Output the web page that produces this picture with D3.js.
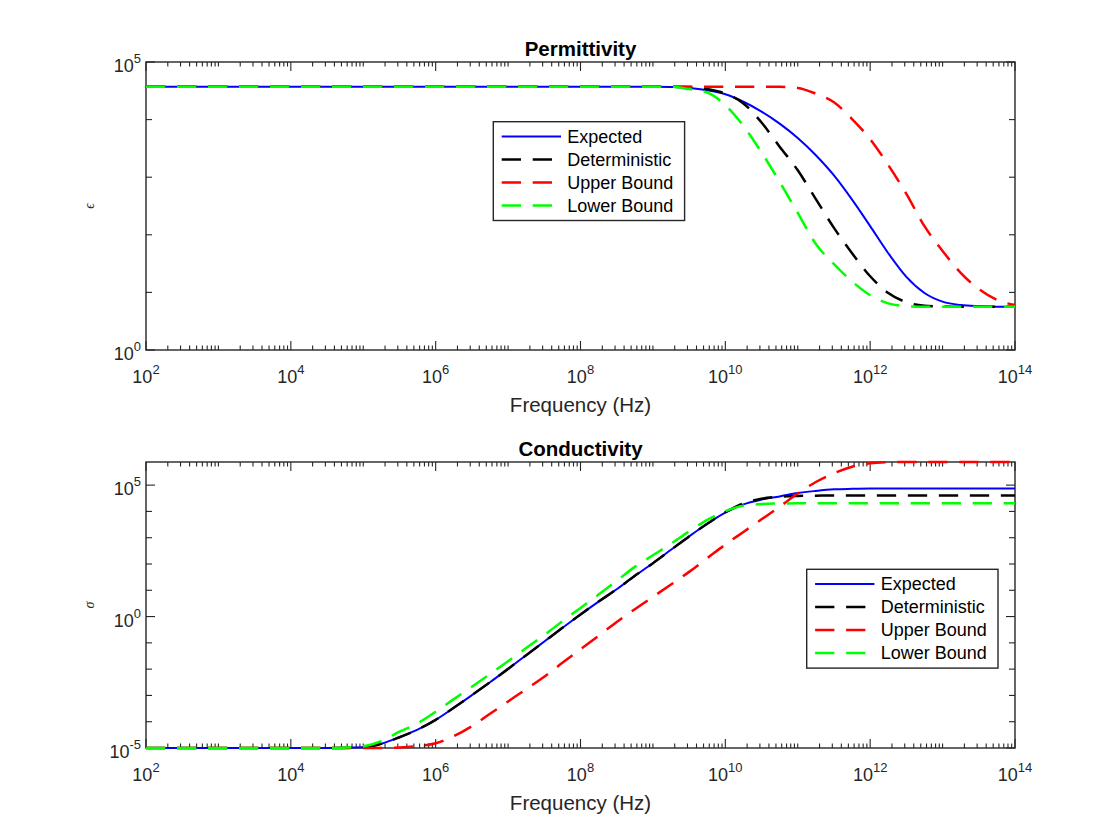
<!DOCTYPE html>
<html>
<head>
<meta charset="utf-8">
<script src="https://cdn.jsdelivr.net/npm/d3@7"></script>
<style>
body { margin: 0; background: #fff; }
svg { display: block; font-family: "Liberation Sans", Arial, sans-serif; }
</style>
</head>
<body>
<svg width="1120" height="840"></svg>
<script>
// frequency points, as log10(Hz)
var freqLog = [2, 3, 4, 4.5, 5, 5.25, 5.5, 5.75, 6, 6.25, 6.5, 6.75, 7, 7.25, 7.5, 7.75, 8, 8.25, 8.5, 8.75,
    9, 9.25, 9.5, 9.75, 10, 10.25, 10.5, 10.75, 11, 11.25, 11.5, 11.75, 12, 12.25, 12.5, 12.75, 13, 13.25, 13.5, 13.75, 14];

// permittivity, log10 values
var epsExpected = [4.57, 4.57, 4.57, 4.57, 4.57, 4.57, 4.57, 4.57, 4.57, 4.57, 4.57, 4.57, 4.57, 4.57, 4.57, 4.57, 4.57, 4.57, 4.57, 4.57,
    4.57, 4.565, 4.55, 4.51, 4.44, 4.31, 4.14, 3.93, 3.68, 3.38, 3.03, 2.61, 2.15, 1.68, 1.27, 0.99, 0.84, 0.78, 0.76, 0.752, 0.75];
var epsDeterministic = [4.57, 4.57, 4.57, 4.57, 4.57, 4.57, 4.57, 4.57, 4.57, 4.57, 4.57, 4.57, 4.57, 4.57, 4.57, 4.57, 4.57, 4.57, 4.57, 4.57,
    4.57, 4.57, 4.565, 4.53, 4.45, 4.28, 3.95, 3.53, 3.12, 2.62, 2.12, 1.68, 1.28, 0.99, 0.83, 0.77, 0.755, 0.75, 0.75, 0.75, 0.75];
var epsUpper = [4.57, 4.57, 4.57, 4.57, 4.57, 4.57, 4.57, 4.57, 4.57, 4.57, 4.57, 4.57, 4.57, 4.57, 4.57, 4.57, 4.57, 4.57, 4.57, 4.57,
    4.57, 4.57, 4.57, 4.57, 4.57, 4.57, 4.57, 4.57, 4.55, 4.45, 4.30, 4.01, 3.66, 3.21, 2.71, 2.15, 1.72, 1.34, 1.06, 0.87, 0.78];
var epsLower = [4.57, 4.57, 4.57, 4.57, 4.57, 4.57, 4.57, 4.57, 4.57, 4.57, 4.57, 4.57, 4.57, 4.57, 4.57, 4.57, 4.57, 4.57, 4.57, 4.57,
    4.57, 4.57, 4.53, 4.47, 4.25, 3.89, 3.43, 2.92, 2.38, 1.84, 1.49, 1.19, 0.95, 0.81, 0.76, 0.75, 0.75, 0.75, 0.75, 0.75, 0.75];

// conductivity, log10 values
var sigExpected = [-5, -5, -5, -5, -4.97, -4.84, -4.59, -4.30, -3.93, -3.47, -2.99, -2.50, -1.99, -1.47, -0.95, -0.43, 0.08, 0.57, 1.04, 1.55,
    2.03, 2.54, 3.05, 3.53, 3.95, 4.27, 4.45, 4.57, 4.70, 4.78, 4.84, 4.86, 4.87, 4.87, 4.87, 4.87, 4.87, 4.87, 4.87, 4.87, 4.87];
var sigDeterministic = [-5, -5, -5, -5, -4.97, -4.84, -4.59, -4.30, -3.93, -3.47, -2.99, -2.50, -1.99, -1.47, -0.95, -0.43, 0.08, 0.57, 1.04, 1.55,
    2.03, 2.54, 3.05, 3.53, 3.97, 4.31, 4.48, 4.56, 4.59, 4.60, 4.61, 4.61, 4.61, 4.61, 4.61, 4.61, 4.61, 4.61, 4.61, 4.61, 4.61];
var sigUpper = [-5, -5, -5, -5, -5, -5, -4.98, -4.93, -4.82, -4.55, -4.17, -3.70, -3.23, -2.76, -2.29, -1.76, -1.24, -0.73, -0.21, 0.28,
    0.75, 1.22, 1.70, 2.22, 2.74, 3.22, 3.70, 4.18, 4.68, 5.12, 5.45, 5.70, 5.83, 5.87, 5.88, 5.88, 5.88, 5.88, 5.88, 5.88, 5.88];
var sigLower = [-5, -5, -5, -5, -4.93, -4.74, -4.38, -4.06, -3.62, -3.14, -2.67, -2.19, -1.70, -1.20, -0.70, -0.18, 0.33, 0.84, 1.36, 1.89,
    2.33, 2.77, 3.24, 3.68, 4.01, 4.22, 4.28, 4.30, 4.31, 4.31, 4.31, 4.31, 4.31, 4.31, 4.31, 4.31, 4.31, 4.31, 4.31, 4.31, 4.31];

var seriesNames = ["Expected", "Deterministic", "Upper Bound", "Lower Bound"];
var seriesColors = ["#0000ff", "#000000", "#ff0000", "#00ff00"];
var seriesDash = [null, "19.3,11.7", "19.3,11.7", "19.3,11.7"];
var seriesWidth = [2, 2.5, 2.5, 2.5];

var xTickLabels = [2, 4, 6, 8, 10, 12, 14];
var epsTickLabels = [0, 5];
var sigTickLabels = [-5, 0, 5];

var svg = d3.select("svg");
var axisColor = "#262626";

drawPanel({
    top: 62, bottom: 350, left: 146, right: 1015,
    yMin: 0, yMax: 5, yLabels: epsTickLabels,
    series: [epsExpected, epsDeterministic, epsUpper, epsLower],
    title: "Permittivity", ylab: "\u03f5",
    legend: {x: 493.3, y: 121.7}
});

drawPanel({
    top: 462, bottom: 748, left: 146, right: 1015,
    yMin: -5, yMax: d3.max(sigUpper), yLabels: sigTickLabels,
    series: [sigExpected, sigDeterministic, sigUpper, sigLower],
    title: "Conductivity", ylab: "\u03c3",
    legend: {x: 806.7, y: 569.3}
});

function powLabel(sel, e) {
    sel.text("10");
    sel.append("tspan").attr("dy", -9).style("font-size", "13px").text(e);
}

function drawPanel(p) {
    var x = d3.scaleLog().domain([1e2, 1e14]).range([p.left, p.right]);
    var y = d3.scaleLog().domain([Math.pow(10, p.yMin), Math.pow(10, p.yMax)]).range([p.bottom, p.top]);
    var g = svg.append("g");
    var midX = (p.left + p.right) / 2;

    // box
    g.append("rect")
        .attr("x", p.left).attr("y", p.top)
        .attr("width", p.right - p.left).attr("height", p.bottom - p.top)
        .attr("fill", "none").attr("stroke", axisColor).attr("stroke-width", 1.4);

    // x ticks, both edges, inward
    var xt = x.ticks(20);
    xt.forEach(function(t) {
        var e = Math.log10(t);
        var major = Math.abs(e - Math.round(e)) < 1e-9 && xTickLabels.indexOf(Math.round(e)) >= 0;
        var len = major ? 9 : 4.5;
        var px = x(t);
        g.append("line").attr("x1", px).attr("x2", px).attr("y1", p.bottom).attr("y2", p.bottom - len)
            .attr("stroke", axisColor).attr("stroke-width", 1.1);
        g.append("line").attr("x1", px).attr("x2", px).attr("y1", p.top).attr("y2", p.top + len)
            .attr("stroke", axisColor).attr("stroke-width", 1.1);
    });
    xTickLabels.forEach(function(e) {
        g.append("text")
            .attr("x", x(Math.pow(10, e))).attr("y", p.bottom + 33)
            .attr("text-anchor", "middle")
            .style("font-size", "18px").style("fill", axisColor)
            .call(powLabel, e);
    });

    // y ticks at each decade
    d3.range(Math.ceil(p.yMin), Math.floor(p.yMax) + 1).forEach(function(e) {
        var major = p.yLabels.indexOf(e) >= 0;
        var len = major ? 9 : 6;
        var py = y(Math.pow(10, e));
        g.append("line").attr("x1", p.left).attr("x2", p.left + len).attr("y1", py).attr("y2", py)
            .attr("stroke", axisColor).attr("stroke-width", 1.1);
        g.append("line").attr("x1", p.right).attr("x2", p.right - len).attr("y1", py).attr("y2", py)
            .attr("stroke", axisColor).attr("stroke-width", 1.1);
    });
    p.yLabels.forEach(function(e) {
        g.append("text")
            .attr("x", p.left - 5).attr("y", y(Math.pow(10, e)) + 10)
            .attr("text-anchor", "end")
            .style("font-size", "18px").style("fill", axisColor)
            .call(powLabel, e);
    });

    // labels and title
    g.append("text")
        .attr("x", midX).attr("y", p.bottom + 62)
        .attr("text-anchor", "middle")
        .style("font-size", "20.5px").style("fill", axisColor)
        .text("Frequency (Hz)");
    g.append("text")
        .attr("x", midX).attr("y", p.top - 6)
        .attr("text-anchor", "middle")
        .style("font-size", "20.5px").style("font-weight", "bold").style("fill", "#000")
        .text(p.title);
    var ly = (p.top + p.bottom) / 2;
    g.append("text")
        .attr("transform", "translate(" + 94 + "," + ly + ") rotate(-90)")
        .attr("text-anchor", "middle")
        .style("font-family", "'Liberation Serif', 'DejaVu Serif', serif")
        .style("font-style", "italic")
        .style("font-size", "14px").style("fill", axisColor)
        .text(p.ylab);

    // curves
    var line = d3.line()
        .x(function(d) { return x(Math.pow(10, d[0])); })
        .y(function(d) { return y(Math.pow(10, d[1])); })
        .curve(d3.curveMonotoneX);

    p.series.forEach(function(vals, i) {
        var pts = freqLog.map(function(f, k) { return [f, vals[k]]; });
        g.append("path")
            .datum(pts)
            .attr("d", line)
            .attr("fill", "none")
            .attr("stroke", seriesColors[i])
            .attr("stroke-width", seriesWidth[i])
            .attr("stroke-dasharray", seriesDash[i]);
    });

    // legend
    var lg = g.append("g").attr("transform", "translate(" + p.legend.x + "," + p.legend.y + ")");
    lg.append("rect")
        .attr("width", 191.3).attr("height", 98.8)
        .attr("fill", "#fff").attr("stroke", axisColor).attr("stroke-width", 1.4);
    seriesNames.forEach(function(name, i) {
        var cy = 14.8 + i * 23;
        lg.append("line")
            .attr("x1", 8.4).attr("x2", 67.7).attr("y1", cy).attr("y2", cy)
            .attr("stroke", seriesColors[i]).attr("stroke-width", seriesWidth[i])
            .attr("stroke-dasharray", seriesDash[i]);
        lg.append("text")
            .attr("x", 74).attr("y", cy).attr("dy", "0.35em")
            .style("font-size", "18px").style("fill", "#000")
            .text(name);
    });
}
</script>
</body>
</html>
